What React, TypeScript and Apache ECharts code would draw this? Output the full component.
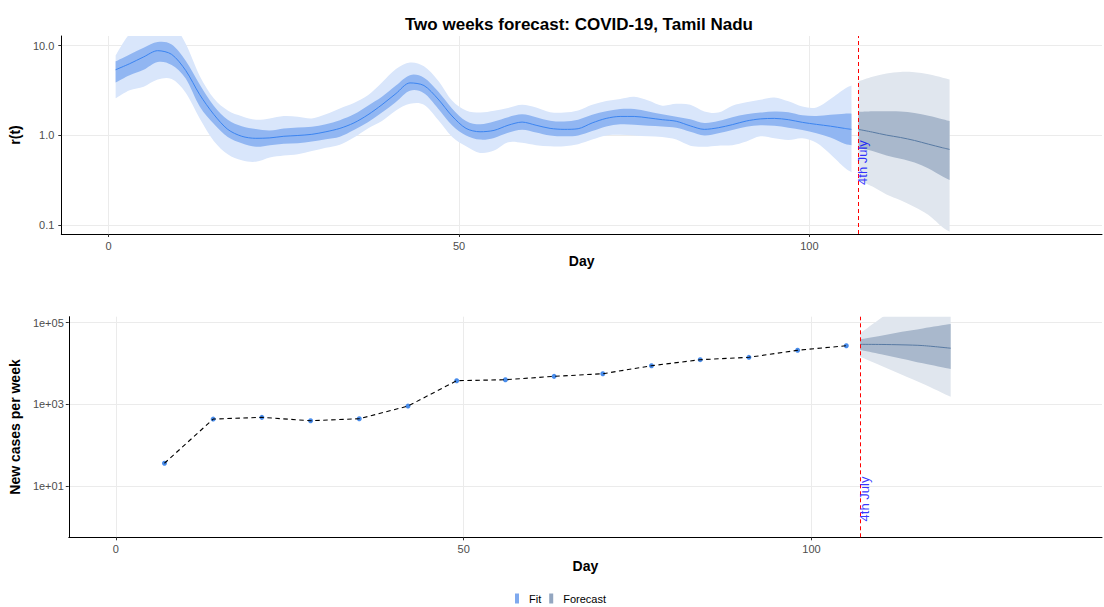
import React, { useEffect, useRef } from "react";
import * as echarts from "echarts";

// ---------- Top panel: r(t) ----------
const fitDays = [1,3,5,7,9,11,13,15,17,19,21,23,25,27,29,31,33,35,37,39,41,43,45,47,49,51,53,55,57,59,61,63,65,67,69,71,73,75,77,79,81,83,85,87,89,91,93,95,97,99,101,103,105,106];
const fitMedian = [5.4,6.3,7.5,8.8,8.0,5.3,2.85,1.72,1.17,0.98, 0.93,0.94,0.98,1.0,1.03,1.1,1.2,1.38,1.7,2.2, 2.93,3.85,3.6,2.55,1.65,1.2,1.1,1.14,1.3,1.41, 1.3,1.2,1.17,1.19,1.38,1.55,1.63,1.63,1.57,1.5, 1.44,1.28,1.17,1.22,1.32,1.45,1.53,1.55,1.5,1.4, 1.33,1.27,1.2,1.17];
const fitLo50 = [3.9,4.7,5.4,6.6,6.1,4.3,2.1,1.35,0.96,0.82, 0.75,0.78,0.81,0.82,0.86,0.91,0.97,1.15,1.4,1.8, 2.36,3.15,2.95,2.0,1.3,1.0,0.9,0.94,1.07,1.16, 1.08,1.0,0.98,1.0,1.12,1.26,1.33,1.32,1.28,1.26, 1.22,1.1,1.0,1.06,1.15,1.25,1.3,1.28,1.22,1.15, 1.06,0.95,0.81,0.78];
const fitHi50 = [6.7,8.0,9.5,11.0,10.3,6.8,3.7,2.15,1.5,1.27, 1.18,1.14,1.2,1.23,1.25,1.33,1.48,1.72,2.15,2.7, 3.6,4.7,4.4,3.1,2.0,1.45,1.33,1.43,1.6,1.72, 1.6,1.46,1.43,1.5,1.7,1.86,1.97,1.97,1.85,1.72, 1.62,1.52,1.38,1.45,1.6,1.72,1.8,1.85,1.82,1.68, 1.65,1.7,1.75,1.75];
const fitLo95 = [2.6,3.2,3.5,4.2,4.25,3.0,1.55,0.87,0.62,0.53, 0.51,0.57,0.6,0.62,0.67,0.73,0.79,0.95,1.2,1.45, 1.9,2.25,2.2,1.5,0.97,0.76,0.64,0.68,0.84,0.83, 0.78,0.76,0.76,0.8,0.9,1.0,1.02,1.0,0.98,0.96, 0.9,0.77,0.75,0.77,0.78,0.86,0.98,0.93,0.89,0.93, 0.83,0.62,0.44,0.39];
const fitHi95 = [7.8,13.5,16,18,18,10.5,4.6,2.6,1.9,1.64, 1.5,1.55,1.65,1.62,1.55,1.72,2.0,2.3,2.8,3.9, 5.5,6.5,5.9,4.1,2.45,1.9,1.8,1.88,2.03,2.2, 2.05,1.82,1.8,1.9,2.2,2.42,2.55,2.7,2.45,2.15, 2.25,2.2,1.85,1.8,2.15,2.35,2.5,2.65,2.4,2.1, 2.05,2.55,3.3,3.6];

const fcDays = [107,109,111,113,115,117,119,120];
const fcMedian = [1.17,1.09,1.01,0.95,0.88,0.8,0.73,0.7];
const fcLo50 = [0.73,0.67,0.6,0.55,0.5,0.43,0.35,0.32];
const fcHi50 = [1.83,1.86,1.86,1.85,1.78,1.66,1.52,1.45];
const fcLo95 = [0.32,0.27,0.22,0.19,0.16,0.13,0.095,0.085];
const fcHi95 = [4.0,4.5,4.9,5.1,5.05,4.8,4.4,4.2];

// ---------- Bottom panel: weekly cases ----------
const weekDays = [7,14,21,28,35,42,49,56,63,70,77,84,91,98,105];
const weeklyCases = [36,436,480,396,444,908,3790,4010,4850,5620,8830,12400,14200,21100,27300];
const fc2Days = [107,110,113,116,120];
const fc2Median = [29500,29300,28700,27500,23700];
const fc2Lo50 = [21400,16800,13100,10100,7330];
const fc2Hi50 = [39200,48000,60000,72600,93000];
const fc2Lo95 = [14700,8840,5320,3200,1530];
const fc2Hi95 = [55000,130000,300000,500000,800000];

const markerDay = 107;
const markerLabel = "4th July";
const markerY = [0.5, 4.8];

const xTicks = [0, 50, 100];
const rTicks = [0.1, 1, 10];
const caseTicks = [10, 1000, 100000];

const FONT = "'Liberation Sans', Arial, Helvetica, sans-serif";
const C = {
  fit95: "#d9e6fb",
  fit50: "#91b6f2",
  fitLine: "#3b84f0",
  fc95: "#e0e6ee",
  fc50: "#a9b8cc",
  fcLine: "#587aa3",
  grid: "#ebebeb",
};

// Catmull-Rom spline through pixel points, as cubic Bezier path commands
function crPath(pts: number[][], start: string): string {
  let d = `${start}${pts[0][0]},${pts[0][1]}`;
  for (let i = 0; i < pts.length - 1; i++) {
    const p0 = pts[i - 1] || pts[i];
    const p1 = pts[i];
    const p2 = pts[i + 1];
    const p3 = pts[i + 2] || p2;
    const c1x = p1[0] + (p2[0] - p0[0]) / 6, c1y = p1[1] + (p2[1] - p0[1]) / 6;
    const c2x = p2[0] - (p3[0] - p1[0]) / 6, c2y = p2[1] - (p3[1] - p1[1]) / 6;
    d += ` C${c1x},${c1y} ${c2x},${c2y} ${p2[0]},${p2[1]}`;
  }
  return d;
}

function bandSeries(name: string, xs: number[], lo: number[], hi: number[], color: string, idx: number) {
  return {
    name, type: "custom", xAxisIndex: idx, yAxisIndex: idx, clip: true, silent: true,
    data: xs.map((x, i) => [x, lo[i], hi[i]]),
    encode: { x: 0, y: [1, 2] },
    renderItem: (params: any, api: any) => {
      if (params.dataIndex !== 0) return;
      const up = xs.map((x, i) => api.coord([x, hi[i]]));
      const dn = xs.map((x, i) => api.coord([x, lo[i]])).reverse();
      const d = crPath(up, "M") + " " + crPath(dn, "L") + " Z";
      return { type: "path", shape: { pathData: d }, style: { fill: color, stroke: null } };
    },
  };
}

function lineSeries(name: string, xs: number[], ys: number[], color: string, idx: number, extra: any = {}) {
  return {
    name, type: "line", xAxisIndex: idx, yAxisIndex: idx, symbol: "none", smooth: 0.3, silent: true,
    data: xs.map((d, i) => [d, ys[i]]), lineStyle: { color, width: 1 }, ...extra,
  };
}

function xAxisCfg(gridIndex: number, nameGap: number) {
  return {
    type: "value", gridIndex, min: -6.75, max: 141.75,
    axisLine: { onZero: false, lineStyle: { color: "#000", width: 1 } },
    axisTick: { customValues: xTicks, length: 3, lineStyle: { color: "#333" } },
    axisLabel: { customValues: xTicks, fontSize: 11, color: "#4d4d4d", margin: 6, fontFamily: FONT },
    splitLine: { show: true, lineStyle: { color: C.grid, width: 1 } },
    name: "Day", nameLocation: "middle", nameGap,
    nameTextStyle: { fontSize: 14, fontWeight: "bold", color: "#000", fontFamily: FONT },
  };
}

function markerSeries(idx: number, y: number) {
  return {
    type: "scatter", xAxisIndex: idx, yAxisIndex: idx, symbolSize: 0, silent: true, z: 5,
    data: [[markerDay, y]],
    label: {
      show: true, formatter: markerLabel, position: [4, 0], rotate: 90, align: "center", verticalAlign: "middle",
      color: "#0000ff", fontSize: 13, fontFamily: FONT,
    },
    labelLayout: { hideOverlap: false },
  };
}

const vline = {
  silent: true, symbol: ["none", "none"], label: { show: false },
  lineStyle: { color: "#ff0000", type: [4, 3], width: 1 },
  data: [{ xAxis: markerDay }],
};

export default function App() {
  const ref = useRef<HTMLDivElement>(null);
  useEffect(() => {
    document.body.style.margin = "0";
    const chart = echarts.init(ref.current!, null, { renderer: "svg" });
    const option: any = {
      animation: false,
      textStyle: { fontFamily: FONT },
      title: {
        text: "Two weeks forecast: COVID-19, Tamil Nadu", left: 400, top: 11,
        textStyle: { fontSize: 17, fontWeight: "bold", color: "#000", fontFamily: FONT },
      },
      legend: {
        left: 515, top: 593, padding: 0, itemWidth: 4, itemHeight: 10, itemGap: 8, icon: "rect", selectedMode: false,
        textStyle: { fontSize: 11, color: "#000", fontFamily: FONT, padding: [0, 0, 0, 5] },
        data: [
          { name: "Fit", itemStyle: { color: "#7fa9ee" } },
          { name: "Forecast", itemStyle: { color: "#93a6c0" } },
        ],
      },
      grid: [
        { left: 58, right: 2, top: 36, height: 198, containLabel: false },
        { left: 67.7, right: 2, top: 316.7, height: 220.6, containLabel: false },
      ],
      xAxis: [xAxisCfg(0, 20), xAxisCfg(1, 22)],
      yAxis: [
        {
          type: "log", logBase: 10, gridIndex: 0, min: 0.08, max: 12.82,
          axisLine: { show: true, onZero: false, lineStyle: { color: "#000", width: 1 } },
          axisTick: { show: true, customValues: rTicks, length: 3, lineStyle: { color: "#333" } },
          axisLabel: { customValues: rTicks, formatter: (v: number) => Number(v).toFixed(1), fontSize: 11, color: "#4d4d4d", margin: 7, fontFamily: FONT },
          splitLine: { show: true, lineStyle: { color: C.grid, width: 1 } },
          name: "r(t)", nameLocation: "middle", nameGap: 33,
          nameTextStyle: { fontSize: 14, fontWeight: "bold", color: "#000", fontFamily: FONT },
        },
        {
          type: "log", logBase: 10, gridIndex: 1, min: 0.553, max: 140300,
          axisLine: { show: true, onZero: false, lineStyle: { color: "#000", width: 1 } },
          axisTick: { show: true, customValues: caseTicks, length: 3, lineStyle: { color: "#333" } },
          axisLabel: {
            customValues: caseTicks,
            formatter: (v: number) => "1e+" + String(Math.round(Math.log10(v))).padStart(2, "0"),
            fontSize: 11, color: "#4d4d4d", margin: 5, fontFamily: FONT,
          },
          splitLine: { show: true, lineStyle: { color: C.grid, width: 1 } },
          name: "New cases per week", nameLocation: "middle", nameGap: 45,
          nameTextStyle: { fontSize: 14, fontWeight: "bold", color: "#000", fontFamily: FONT },
        },
      ],
      series: [
        // top panel
        bandSeries("Fit", fitDays, fitLo95, fitHi95, C.fit95, 0),
        bandSeries("Fit", fitDays, fitLo50, fitHi50, C.fit50, 0),
        lineSeries("Fit", fitDays, fitMedian, C.fitLine, 0, { markLine: vline }),
        bandSeries("Forecast", fcDays, fcLo95, fcHi95, C.fc95, 0),
        bandSeries("Forecast", fcDays, fcLo50, fcHi50, C.fc50, 0),
        lineSeries("Forecast", fcDays, fcMedian, C.fcLine, 0),
        markerSeries(0, markerY[0]),
        // bottom panel
        bandSeries("Forecast", fc2Days, fc2Lo95, fc2Hi95, C.fc95, 1),
        bandSeries("Forecast", fc2Days, fc2Lo50, fc2Hi50, C.fc50, 1),
        lineSeries("Forecast", fc2Days, fc2Median, C.fcLine, 1, { markLine: vline }),
        {
          type: "scatter", xAxisIndex: 1, yAxisIndex: 1, symbolSize: 5, silent: true,
          data: weekDays.map((d, i) => [d, weeklyCases[i]]), itemStyle: { color: "#1a6fe6" },
        },
        {
          type: "line", xAxisIndex: 1, yAxisIndex: 1, symbol: "none", silent: true,
          data: weekDays.map((d, i) => [d, weeklyCases[i]]),
          lineStyle: { color: "#000", width: 1.1, type: [4.5, 3.5] },
        },
        markerSeries(1, markerY[1]),
      ],
    };
    chart.setOption(option);
    return () => chart.dispose();
  }, []);
  return <div ref={ref} style={{ width: 1104, height: 607 }} />;
}
